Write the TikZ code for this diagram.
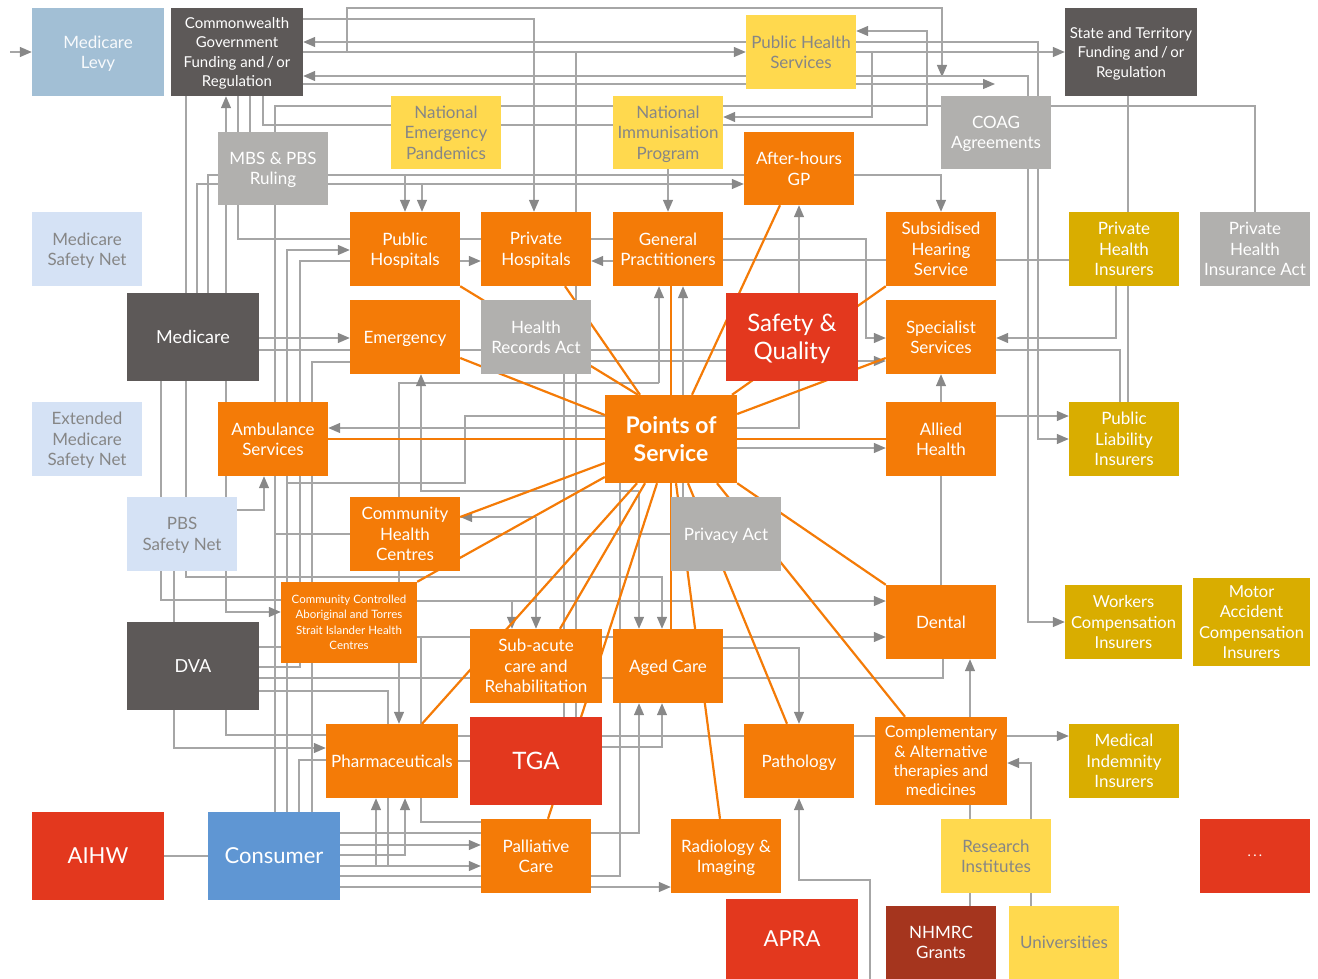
\documentclass[tikz,border=0pt]{standalone}
\usepackage{fontspec}
\setmainfont{Lato}
\usetikzlibrary{arrows.meta}
\definecolor{cOr}{HTML}{F47B07}
\definecolor{cRed}{HTML}{E3381E}
\definecolor{cDk}{HTML}{5D5958}
\definecolor{cGr}{HTML}{B1B0AE}
\definecolor{cYe}{HTML}{FFD94E}
\definecolor{cMu}{HTML}{D9AD00}
\definecolor{cLb}{HTML}{D5E2F5}
\definecolor{cLv}{HTML}{A2BFD5}
\definecolor{cCo}{HTML}{5F96D3}
\definecolor{cNh}{HTML}{A5351E}
\definecolor{cTx}{HTML}{868686}
\definecolor{cLine}{HTML}{A6A6A6}
\definecolor{cTip}{HTML}{888888}
\newcommand\myfs[2]{\fontsize{#1}{#2}\selectfont}
\pgfdeclarelayer{bg}
\pgfsetlayers{bg,main}
\tikzset{
  bx/.style={draw=none, inner sep=0pt, align=center, text=white, text depth=0pt, font=\myfs{17}{20.5}},
  obox/.style={bx, fill=cOr},
  rbox/.style={bx, fill=cRed},
  dbox/.style={bx, fill=cDk},
  gbox/.style={bx, fill=cGr},
  ybox/.style={bx, fill=cYe, text=cTx},
  mbox/.style={bx, fill=cMu},
  lbbox/.style={bx, fill=cLb, text=cTx},
  lvbox/.style={bx, fill=cLv, text=white!92!cLv},
  cbox/.style={bx, fill=cCo},
  nbox/.style={bx, fill=cNh},
  std/.style={minimum width=110pt, minimum height=74pt},
  big/.style={minimum width=132pt, minimum height=88pt},
  wide/.style={minimum width=132pt, minimum height=74pt},
  gl/.style={draw=cLine, line width=1.3pt},
  ga/.style={gl, -{Triangle[length=12pt,width=10pt,color=cTip]}},
  ol/.style={draw=cOr, line width=2.2pt},
}
\begin{document}
\begin{tikzpicture}[x=1pt,y=-1pt]
\useasboundingbox (0,0) rectangle (1318,979);
% ---------- nodes ----------
\node[lvbox, big] (levy) at (98,52) {Medicare\\Levy};
\node[dbox, big, font=\myfs{15}{19.5}] (cw) at (237,52) {Commonwealth\\Government\\Funding and\,/\,or\\Regulation};
\node[ybox, std] (phs) at (801,52) {Public Health\\Services};
\node[dbox, big, font=\myfs{15}{19.5}] (state) at (1131,52) {State and Territory\\Funding and\,/\,or\\Regulation};
\node[ybox, std, minimum height=73pt] (nep) at (446,132.5) {National\\Emergency\\Pandemics};
\node[ybox, std, minimum height=73pt] (nip) at (668,132.5) {National\\Immunisation\\Program};
\node[gbox, std, minimum height=73pt] (coag) at (996,132.5) {COAG\\Agreements};
\node[gbox, std, minimum height=73pt] (mbs) at (273,168.5) {MBS \& PBS\\Ruling};
\node[obox, std, minimum height=73pt] (ahgp) at (799,168.5) {After-hours\\GP};
\node[lbbox, std] (msn) at (87,249) {Medicare\\Safety Net};
\node[obox, std] (pubh) at (405,249) {Public\\Hospitals};
\node[obox, std] (privh) at (536,249) {Private\\Hospitals};
\node[obox, std] (gp) at (668,249) {General\\Practitioners};
\node[obox, std] (shs) at (941,249) {Subsidised\\Hearing\\Service};
\node[mbox, std] (phi) at (1124,249) {Private\\Health\\Insurers};
\node[gbox, std] (phia) at (1255,249) {Private\\Health\\Insurance Act};
\node[dbox, big, font=\myfs{18}{21}] (medicare) at (193,337) {Medicare};
\node[obox, std] (emerg) at (405,337) {Emergency};
\node[gbox, std] (hra) at (536,337) {Health\\Records Act};
\node[rbox, big, font=\myfs{24}{28}] (sq) at (792,337) {Safety \&\\Quality};
\node[obox, std] (spec) at (941,337) {Specialist\\Services};
\node[lbbox, std] (emsn) at (87,439) {Extended\\Medicare\\Safety Net};
\node[obox, std] (amb) at (273,439) {Ambulance\\Services};
\node[obox, big, font=\myfs{23}{28}\bfseries] (pos) at (671,439) {Points of\\Service};
\node[obox, std] (allied) at (941,439) {Allied\\Health};
\node[mbox, std] (pli) at (1124,439) {Public\\Liability\\Insurers};
\node[lbbox, std] (pbssn) at (182,534) {PBS\\Safety Net};
\node[obox, std] (chc) at (405,534) {Community\\Health\\Centres};
\node[gbox, std] (privacy) at (726,534) {Privacy Act};
\node[obox, minimum width=136pt, minimum height=81pt, font=\myfs{11.5}{15.5}] (ccah) at (349,622.5) {Community Controlled\\Aboriginal and Torres\\Strait Islander Health\\Centres};
\node[obox, std] (dental) at (941,622) {Dental};
\node[mbox, minimum width=117pt, minimum height=74pt, font=\myfs{16.5}{20.5}] (workers) at (1123.5,622) {Workers\\Compensation\\Insurers};
\node[mbox, minimum width=117pt, minimum height=88pt, font=\myfs{16.5}{20.5}] (motor) at (1251.5,622) {Motor\\Accident\\Compensation\\Insurers};
\node[dbox, big, font=\myfs{18}{21}] (dva) at (193,666) {DVA};
\node[obox, wide] (subacute) at (536,666) {Sub-acute\\care and\\Rehabilitation};
\node[obox, std] (aged) at (668,666) {Aged Care};
\node[obox, wide] (pharma) at (392,761) {Pharmaceuticals};
\node[rbox, big, font=\myfs{24}{28}] (tga) at (536,761) {TGA};
\node[obox, std] (path) at (799,761) {Pathology};
\node[obox, big, font=\myfs{16}{19.3}] (comp) at (941,761) {Complementary\\\& Alternative\\therapies and\\medicines};
\node[mbox, std] (mii) at (1124,761) {Medical\\Indemnity\\Insurers};
\node[rbox, big, font=\myfs{22}{26}] (aihw) at (98,856) {AIHW};
\node[cbox, big, font=\myfs{22}{26}] (consumer) at (274,856) {Consumer};
\node[obox, std] (pall) at (536,856) {Palliative\\Care};
\node[obox, std] (radio) at (726,856) {Radiology \&\\Imaging};
\node[ybox, std] (research) at (996,856) {Research\\Institutes};
\node[rbox, std, font=\myfs{14}{16}] (dots) at (1255,856) {.\,.\,.};
\node[rbox, minimum width=132pt, minimum height=80pt, font=\myfs{22}{26}] (apra) at (792,939) {APRA};
\node[nbox, std, minimum height=73pt] (nhmrc) at (941,942.5) {NHMRC\\Grants};
\node[ybox, std, minimum height=73pt] (unis) at (1064,942.5) {Universities};
\coordinate (levyin) at (10,52);
\coordinate (coagtop) at (942,77);
\coordinate (coagl) at (995,84);
\coordinate (botin) at (870,979);
% ---------- connectors ----------
\begin{pgfonlayer}{bg}
% top band
\draw[ga] (levyin) -- (levy.west);
\draw[ga] (cw.east|-0,19) -| (534,0|-privh.north);
\draw[ga] (phs.west|-0,42) -- (cw.east|-0,42);
\draw[ga] (cw.east|-0,52) -- (phs.west|-0,52);
\draw[ga] (phs.east|-0,52) -- (state.west|-0,52);
\draw[ga] (347,52) |- (942,8) -- (coagtop);
\draw[gl] (576,52) -- (576,0|-tga.north);
\draw[ga] (872,52) |- (nip.east|-0,117);
\draw[ga] (nip.east|-0,125) -| (927,31) -- (phs.east|-0,31);
\draw[ga] (phs.east|-0,42) -| (1038,439) -- (pli.west|-0,439);
\draw[ga] (phs.west|-0,76) -- (cw.east|-0,76);
\draw[ga] (phs.east|-0,76) -| (1028,622) -- (workers.west|-0,622);
\draw[ga] (cw.east|-0,84) -- (coagl);
\draw[gl] (coag.east|-0,106) -| (phia.north);
\draw[gl] (1128,0|-state.south) -- (1128,0|-pli.north);
\draw[ga] (1116,0|-phi.south) |- (spec.east|-0,338);
\draw[gl] (spec.east|-0,350) -| (1120,0|-pli.north);
\draw[gl] (nep.east|-0,106) -- (nip.west|-0,106);
\draw[gl] (nip.east|-0,106) -- (coag.west|-0,106);
\draw[gl] (nep.east|-0,125) -- (nip.west|-0,125);
% below commonwealth
\draw[gl] (186,0|-cw.south) -- (186,0|-medicare.north);
\draw[ga] (226,0|-mbs.north) -- (226,0|-cw.south);
\draw[gl] (238,0|-cw.south) -- (238,0|-mbs.north);
\draw[gl] (250,0|-cw.south) -- (250,0|-mbs.north);
\draw[gl] (263,0|-cw.south) |- (nep.west|-0,125);
\draw[gl] (nep.west|-0,106) -| (275,0|-mbs.north);
% MBS
\draw[ga] (mbs.east|-0,175) -| (shs.north);
\draw[ga] (mbs.east|-0,184) -- (ahgp.west|-0,184);
\draw[ga] (405,175) -- (pubh.north);
\draw[ga] (422,184) -- (422,0|-pubh.north);
\draw[ga] (nip.south) -- (gp.north);
\draw[gl] (mbs.west|-0,175) -| (208,0|-medicare.north);
\draw[gl] (mbs.west|-0,184) -| (197,0|-medicare.north);
\draw[gl] (226,0|-mbs.south) -- (226,0|-medicare.north);
\draw[gl] (238,0|-mbs.south) |- (pubh.west|-0,239);
\draw[gl] (275,0|-consumer.north) -- (275,0|-mbs.south);
\draw[ga] (287,0|-consumer.north) |- (pubh.west|-0,250);
\draw[gl] (dva.east|-0,667) -| (300,261) -- (pubh.west|-0,261);
% hospitals row
\draw[gl] (pubh.east|-0,239) -- (privh.west|-0,239);
\draw[gl] (privh.east|-0,239) -- (gp.west|-0,239);
\draw[ga] (pubh.east|-0,261) -- (privh.west|-0,261);
\draw[ga] (gp.west|-0,261) -- (privh.east|-0,261);
\draw[ga] (gp.east|-0,239) -| (866,338) -- (spec.west|-0,338);
\draw[gl] (gp.east|-0,260) -- (shs.west|-0,260);
\draw[gl] (shs.east|-0,260) -- (phi.west|-0,260);
\draw[ga] (799,0|-sq.north) -- (799,0|-ahgp.south);
% medicare row
\draw[ga] (medicare.east|-0,338) -- (emerg.west|-0,338);
\draw[gl] (medicare.east|-0,350) -- (sq.west|-0,350);
\draw[ga] (hra.east|-0,361) -- (spec.west|-0,361);
\draw[gl] (186,0|-medicare.south) -- (186,0|-pbssn.north);
\draw[gl] (161,0|-medicare.south) -- (161,0|-pbssn.north);
\draw[gl] (226,0|-medicare.south) -- (226,0|-pbssn.north);
\draw[gl] (312,0|-consumer.north) |- (emerg.west|-0,362);
% into GP from below
\draw[ga] (659,383) -- (659,0|-gp.south);
\draw[ga] (659,383) -| (399,0|-pharma.north);
\draw[ga] (683,0|-privacy.north) -- (683,0|-gp.south);
% middle
\draw[ga] (799,0|-sq.south) |- (amb.east|-0,428);
\draw[gl] (pos.west|-0,416) -| (465,483) -- (287,483);
\draw[ga] (pos.east|-0,448) -- (allied.west|-0,448);
\draw[ga] (allied.north) -- (spec.south);
\draw[ga] (allied.east|-0,416) -- (pli.west|-0,416);
\draw[gl] (allied.south) -- (dental.north);
\draw[ga] (pbssn.east|-0,510) -| (264,0|-amb.south);
\draw[ga] (639,491) -| (421,0|-emerg.south);
\draw[ga] (639,491) -- (639,0|-aged.north);
\draw[ga] (536,517) -- (chc.east|-0,517);
\draw[ga] (536,517) -- (subacute.north);
\draw[gl] (275,534) -- (chc.west|-0,534);
\draw[gl] (chc.east|-0,534) -- (privacy.west|-0,534);
\draw[ga] (186,0|-pbssn.south) |- (662,577) -- (662,0|-aged.north);
\draw[gl] (161,0|-pbssn.south) |- (ccah.west|-0,600);
\draw[ga] (226,0|-pbssn.south) |- (ccah.west|-0,612);
\draw[ga] (ccah.east|-0,601) -- (dental.west|-0,601);
\draw[ga] (512,601) -- (512,0|-subacute.north);
\draw[ga] (ccah.east|-0,637) -- (dental.west|-0,637);
\draw[gl] (564,0|-hra.south) -- (564,0|-tga.north);
% DVA
\draw[gl] (dva.east|-0,647) -- (ccah.west|-0,647);
\draw[gl] (dva.east|-0,678) -| (943,0|-dental.south);
\draw[gl] (dva.east|-0,691) -| (388,0|-pharma.north);
\draw[gl] (226,0|-dva.south) |- (pharma.west|-0,735);
\draw[ga] (174,0|-pbssn.south) |- (pharma.west|-0,748);
\draw[gl] (299,0|-consumer.north) |- (pharma.west|-0,760);
\draw[gl] (pharma.east) -- (tga.west);
\draw[gl] (pharma.east|-0,736) -- (tga.west|-0,736);
\draw[gl] (tga.east|-0,736) -- (path.west|-0,736);
\draw[gl] (path.east|-0,736) -- (comp.west|-0,736);
\draw[ga] (comp.east|-0,736) -- (mii.west|-0,736);
% lower centre
\draw[gl] (620,0|-pos.south) |- (pall.east|-0,876);
\draw[ga] (pall.east|-0,833) -| (639,0|-aged.south);
\draw[ga] (tga.east|-0,747) -| (662,0|-aged.south);
\draw[ga] (aged.east|-0,648) -| (path.north);
% lower right
\draw[ga] (1031,0|-research.north) |- (comp.east|-0,763);
\draw[gl] (970,0|-comp.south) -- (970,0|-research.north);
\draw[ga] (970,0|-comp.north) -- (970,0|-dental.south);
\draw[gl] (970,0|-research.south) -- (970,0|-nhmrc.north);
\draw[gl] (1031,0|-research.south) -- (1031,0|-unis.north);
\draw[ga] (botin) |- (799,880) -- (path.south);
% consumer
\draw[gl] (aihw) -- (consumer);
\draw[gl] (consumer.east|-0,833) -- (pall.west|-0,833);
\draw[ga] (consumer.east|-0,845) -- (pall.west|-0,845);
\draw[ga] (consumer.east|-0,866) -- (pall.west|-0,866);
\draw[gl] (consumer.east|-0,876) -- (pall.west|-0,876);
\draw[ga] (consumer.east|-0,887) -- (radio.west|-0,887);
\draw[ga] (consumer.east|-0,866) -| (376,0|-pharma.south);
\draw[ga] (consumer.east|-0,855) -| (405,0|-pharma.south);
\draw[gl] (388,0|-pharma.south) -- (388,866);
\draw[gl] (421,637) |- (pall.west|-0,822);
% orange spokes
\draw[ol] (pubh.south east) -- (638,0|-pos.north);
\draw[ol] (565,0|-privh.south) -- (640,0|-pos.north);
\draw[ol] (671,0|-gp.south) -- (671,0|-pos.north);
\draw[ol] (780,0|-ahgp.south) -- (692,0|-pos.north);
\draw[ol] (shs.south west) -- (732,0|-pos.north);
\draw[ol] (spec.west|-0,358) -- (pos.east|-0,414);
\draw[ol] (emerg.east|-0,358) -- (pos.west|-0,415);
\draw[ol] (amb.east|-0,439) -- (allied.west|-0,439);
\draw[ol] (chc.east|-0,517) -- (pos.west|-0,463);
\draw[ol] (ccah.north east) -- (pos.west|-0,477);
\draw[ol] (422,0|-pharma.north) -- (637,0|-pos.south);
\draw[ol] (560,0|-subacute.north) -- (645,0|-pos.south);
\draw[ol] (548,0|-pall.north) -- (657,0|-pos.south);
\draw[ol] (671,0|-aged.north) -- (671,0|-pos.south);
\draw[ol] (720,0|-radio.north) -- (676,0|-pos.south);
\draw[ol] (787,0|-path.north) -- (688,0|-pos.south);
\draw[ol] (905,0|-comp.north) -- (717,0|-pos.south);
\draw[ol] (dental.north west) -- (pos.south east);
\end{pgfonlayer}
\end{tikzpicture}
\end{document}
